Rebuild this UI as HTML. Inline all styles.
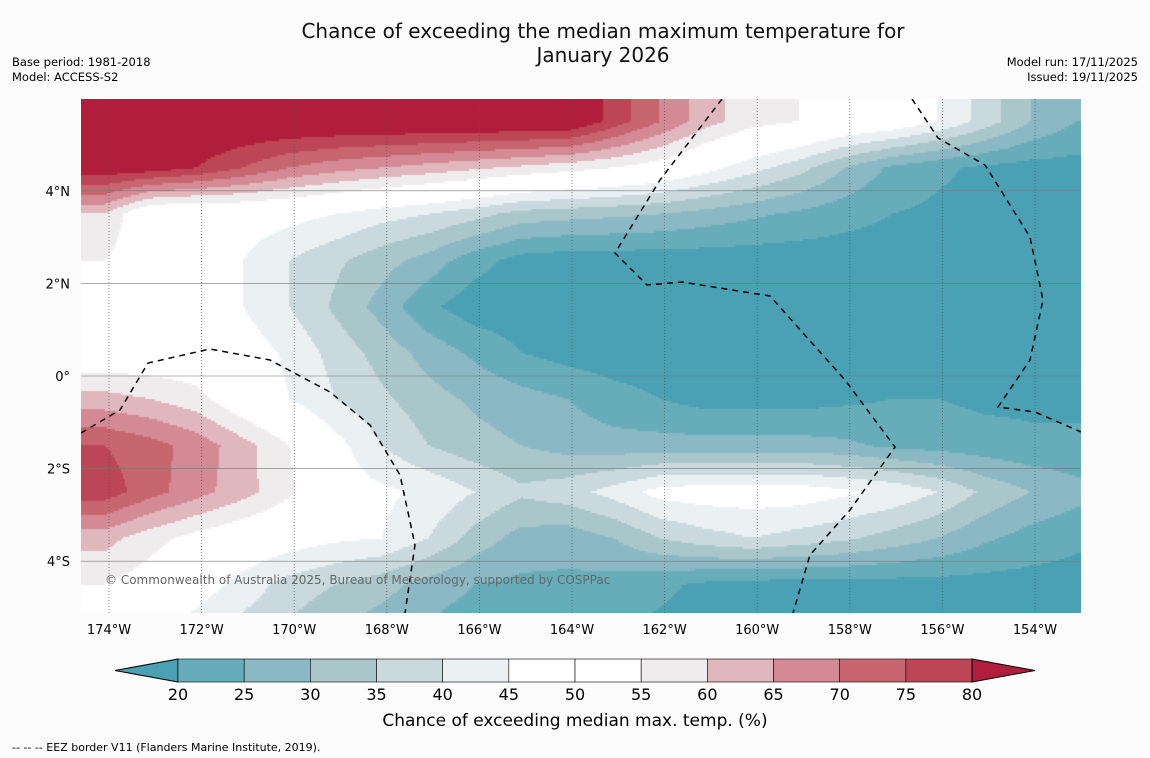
<!DOCTYPE html>
<html><head><meta charset="utf-8"><style>
body{margin:0;background:#fcfcfc;}
svg text{font-family:"DejaVu Sans","Liberation Sans",sans-serif;}
#map{position:absolute;left:81px;top:99px;}
#over{position:absolute;left:0;top:0;}
</style></head><body>
<canvas id="map" width="1000" height="514"></canvas>
<svg id="over" width="1150" height="758" viewBox="0 0 1150 758">
<defs><clipPath id="mapclip"><rect x="81" y="99" width="1000" height="514"/></clipPath></defs>
<text x="603" y="38" text-anchor="middle" font-size="20" fill="#111">Chance of exceeding the median maximum temperature for</text>
<text x="603" y="62" text-anchor="middle" font-size="20" fill="#111">January 2026</text>
<text x="12" y="66" font-size="11.5">Base period: 1981-2018</text>
<text x="12" y="81" font-size="11.5">Model: ACCESS-S2</text>
<text x="1138" y="66" font-size="11.5" text-anchor="end">Model run: 17/11/2025</text>
<text x="1138" y="81" font-size="11.5" text-anchor="end">Issued: 19/11/2025</text>
<g clip-path="url(#mapclip)">
<g id="grid"></g>
<g fill="none" stroke="#000" stroke-width="1.5" stroke-dasharray="6,5">
<path d="M722,99 L660,180 L615,253 L647,285 L682,282 L770,296 L845,380 L895,447 L850,510 L810,555 L793,613"/>
<path d="M912,99 L938,138 L985,165 L1030,237 L1043,300 L1030,360 L998,407 L1035,412 L1081,432"/>
<path d="M81,433 L120,410 L148,363 L210,349 L270,360 L330,392 L370,425 L400,475 L415,545 L405,613"/>
</g>
<text x="105" y="584" font-size="12" fill="#666">© Commonwealth of Australia 2025, Bureau of Meteorology, supported by COSPPac</text>
</g>
<g id="axes" font-size="13" fill="#000"></g>
<g id="cbar"></g>
<text x="575" y="726" text-anchor="middle" font-size="17">Chance of exceeding median max. temp. (%)</text>
<text x="12" y="751" font-size="11">--  --  -- EEZ border V11 (Flanders Marine Institute, 2019).</text>
</svg>
<script>
const NS="http://www.w3.org/2000/svg";
const lonFirst=-174.1, latFirst=5.5;
const levels=[20,25,30,35,40,45,50,55,60,65,70,75,80];
const colors=["#4aa1b3","#67adb9","#8ab8c4","#a9c6cb","#c9d9de","#ebf1f3","#ffffff","#ffffff","#efeced","#e0b7bd","#d48a95","#c86670","#bc4556","#b01e3b"];
const lonTicks=[-174,-172,-170,-168,-166,-164,-162,-160,-158,-156,-154];
const latTicks=[4,2,0,-2,-4];
const row0=[86,86,86,86,86,86,86,86,86,86,86,78,70,62,57,55,52,50,45,38,30,25];
const row1=[84,83,80,75,70,67,65,63,61,59,57,55,52,47,42,37,30,24,21,19,18,18];
const row2=[60,48,47,48,47,45,42,40,37,33,32,31,30,28,26,24,22,20,19,18,18,18];
const row3=[55,50,48,45,40,36,32,28,22,18,17,17,17,17,17,17,17,17,17,17,17,17];
const row4=[50,49,47,45,40,34,28,21,17,17,17,17,17,17,17,17,17,17,17,17,17,17];
const row5=[50,50,50,48,44,38,33,28,24,20,18,17,17,17,17,17,17,17,17,17,17,17];
const row6=[62,60,57,50,45,40,36,32,29,27,25,22,20,18,18,18,19,20,20,19,19,19];
const row7=[75,72,68,62,55,47,40,35,32,30,28,27,27,27,27,27,26,24,23,22,21,21];
const row8=[78,72,67,62,56,48,46,44,40,36,38,42,47,48,48,48,46,44,40,34,30,27];
const row9=[62,57,53,50,48,46,45,40,33,28,27,30,35,38,40,38,36,33,30,26,23,21];
const row10=[55,52,48,43,38,35,32,28,25,24,24,23,21,19,18,18,18,18,18,18,18,18];
const row11=[52,48,42,38,34,30,27,24,22,21,21,20,19,18,18,18,18,18,18,18,18,18];
const rows=[row0,row1,row2,row3,row4,row5,row6,row7,row8,row9,row10,row11];
const xS=lon=>109+(lon+174)*46.3;
const yS=lat=>376-lat*46.3;
function col(v){let i=0;while(i<levels.length&&v>=levels[i])i++;return colors[i];}
const ctx=document.getElementById('map').getContext('2d');
const nr=rows.length,nc=rows[0].length,step=2;
for(let py=0;py<514;py+=step){for(let px=0;px<1000;px+=step){
  const X=px+81+step/2,Y=py+99+step/2;
  let fi=((-174+(X-109)/46.3)-lonFirst), fj=(latFirst-(376-Y)/46.3);
  fi=Math.max(0,Math.min(nc-1.0001,fi)); fj=Math.max(0,Math.min(nr-1.0001,fj));
  const i=Math.floor(fi),j=Math.floor(fj),a=fi-i,b=fj-j;
  const v=(rows[j][i]*(1-a)+rows[j][i+1]*a)*(1-b)+(rows[j+1][i]*(1-a)+rows[j+1][i+1]*a)*b;
  ctx.fillStyle=col(v);ctx.fillRect(px,py,step,step);
}}
const grid=document.getElementById('grid'),axes=document.getElementById('axes');
lonTicks.forEach(l=>{
  const x=xS(l);
  const ln=document.createElementNS(NS,'line');
  ln.setAttribute('x1',x);ln.setAttribute('x2',x);ln.setAttribute('y1',99);ln.setAttribute('y2',613);
  ln.setAttribute('stroke','#555');ln.setAttribute('stroke-width','0.7');ln.setAttribute('stroke-dasharray','1,2');
  
  
  grid.appendChild(ln);
  const t=document.createElementNS(NS,'text');
  t.setAttribute('x',x);t.setAttribute('y',634);t.setAttribute('text-anchor','middle');
  t.textContent=Math.abs(l)+'°W';
  
  
  axes.appendChild(t);
});
latTicks.forEach(l=>{
  const y=yS(l);
  const ln=document.createElementNS(NS,'line');
  ln.setAttribute('x1',81);ln.setAttribute('x2',1081);ln.setAttribute('y1',y);ln.setAttribute('y2',y);
  ln.setAttribute('stroke','#777');ln.setAttribute('stroke-width','0.6');
  
  
  grid.appendChild(ln);
  const t=document.createElementNS(NS,'text');
  t.setAttribute('x',70);t.setAttribute('y',y+5);t.setAttribute('text-anchor','end');
  t.textContent=l===0?'0°':Math.abs(l)+'°'+(l>0?'N':'S');
  
  
  axes.appendChild(t);
});
const cb=document.getElementById('cbar');
const cx0=178,cw=66.17,cy=659,ch=23;
function add(tag,attrs,name){const e=document.createElementNS(NS,tag);for(const k in attrs)e.setAttribute(k,attrs[k]);
  
  
  cb.appendChild(e);return e;}
add('polygon',{points:`${cx0},${cy} ${cx0},${cy+ch} 115,${cy+ch/2}`,fill:colors[0],stroke:'#000','stroke-width':1},'colorbar-low-extension');
for(let k=0;k<12;k++){
  add('rect',{x:cx0+k*cw,y:cy,width:cw,height:ch,fill:colors[k+1],stroke:'#000','stroke-width':0.6},'colorbar-bin');
}
add('polygon',{points:`${cx0+12*cw},${cy} ${cx0+12*cw},${cy+ch} 1035,${cy+ch/2}`,fill:colors[13],stroke:'#000','stroke-width':1},'colorbar-high-extension');
levels.forEach((v,k)=>{const t=add('text',{x:cx0+k*cw,y:700,'text-anchor':'middle','font-size':16},'colorbar-tick-label');t.textContent=v;});
</script>
</body></html>
